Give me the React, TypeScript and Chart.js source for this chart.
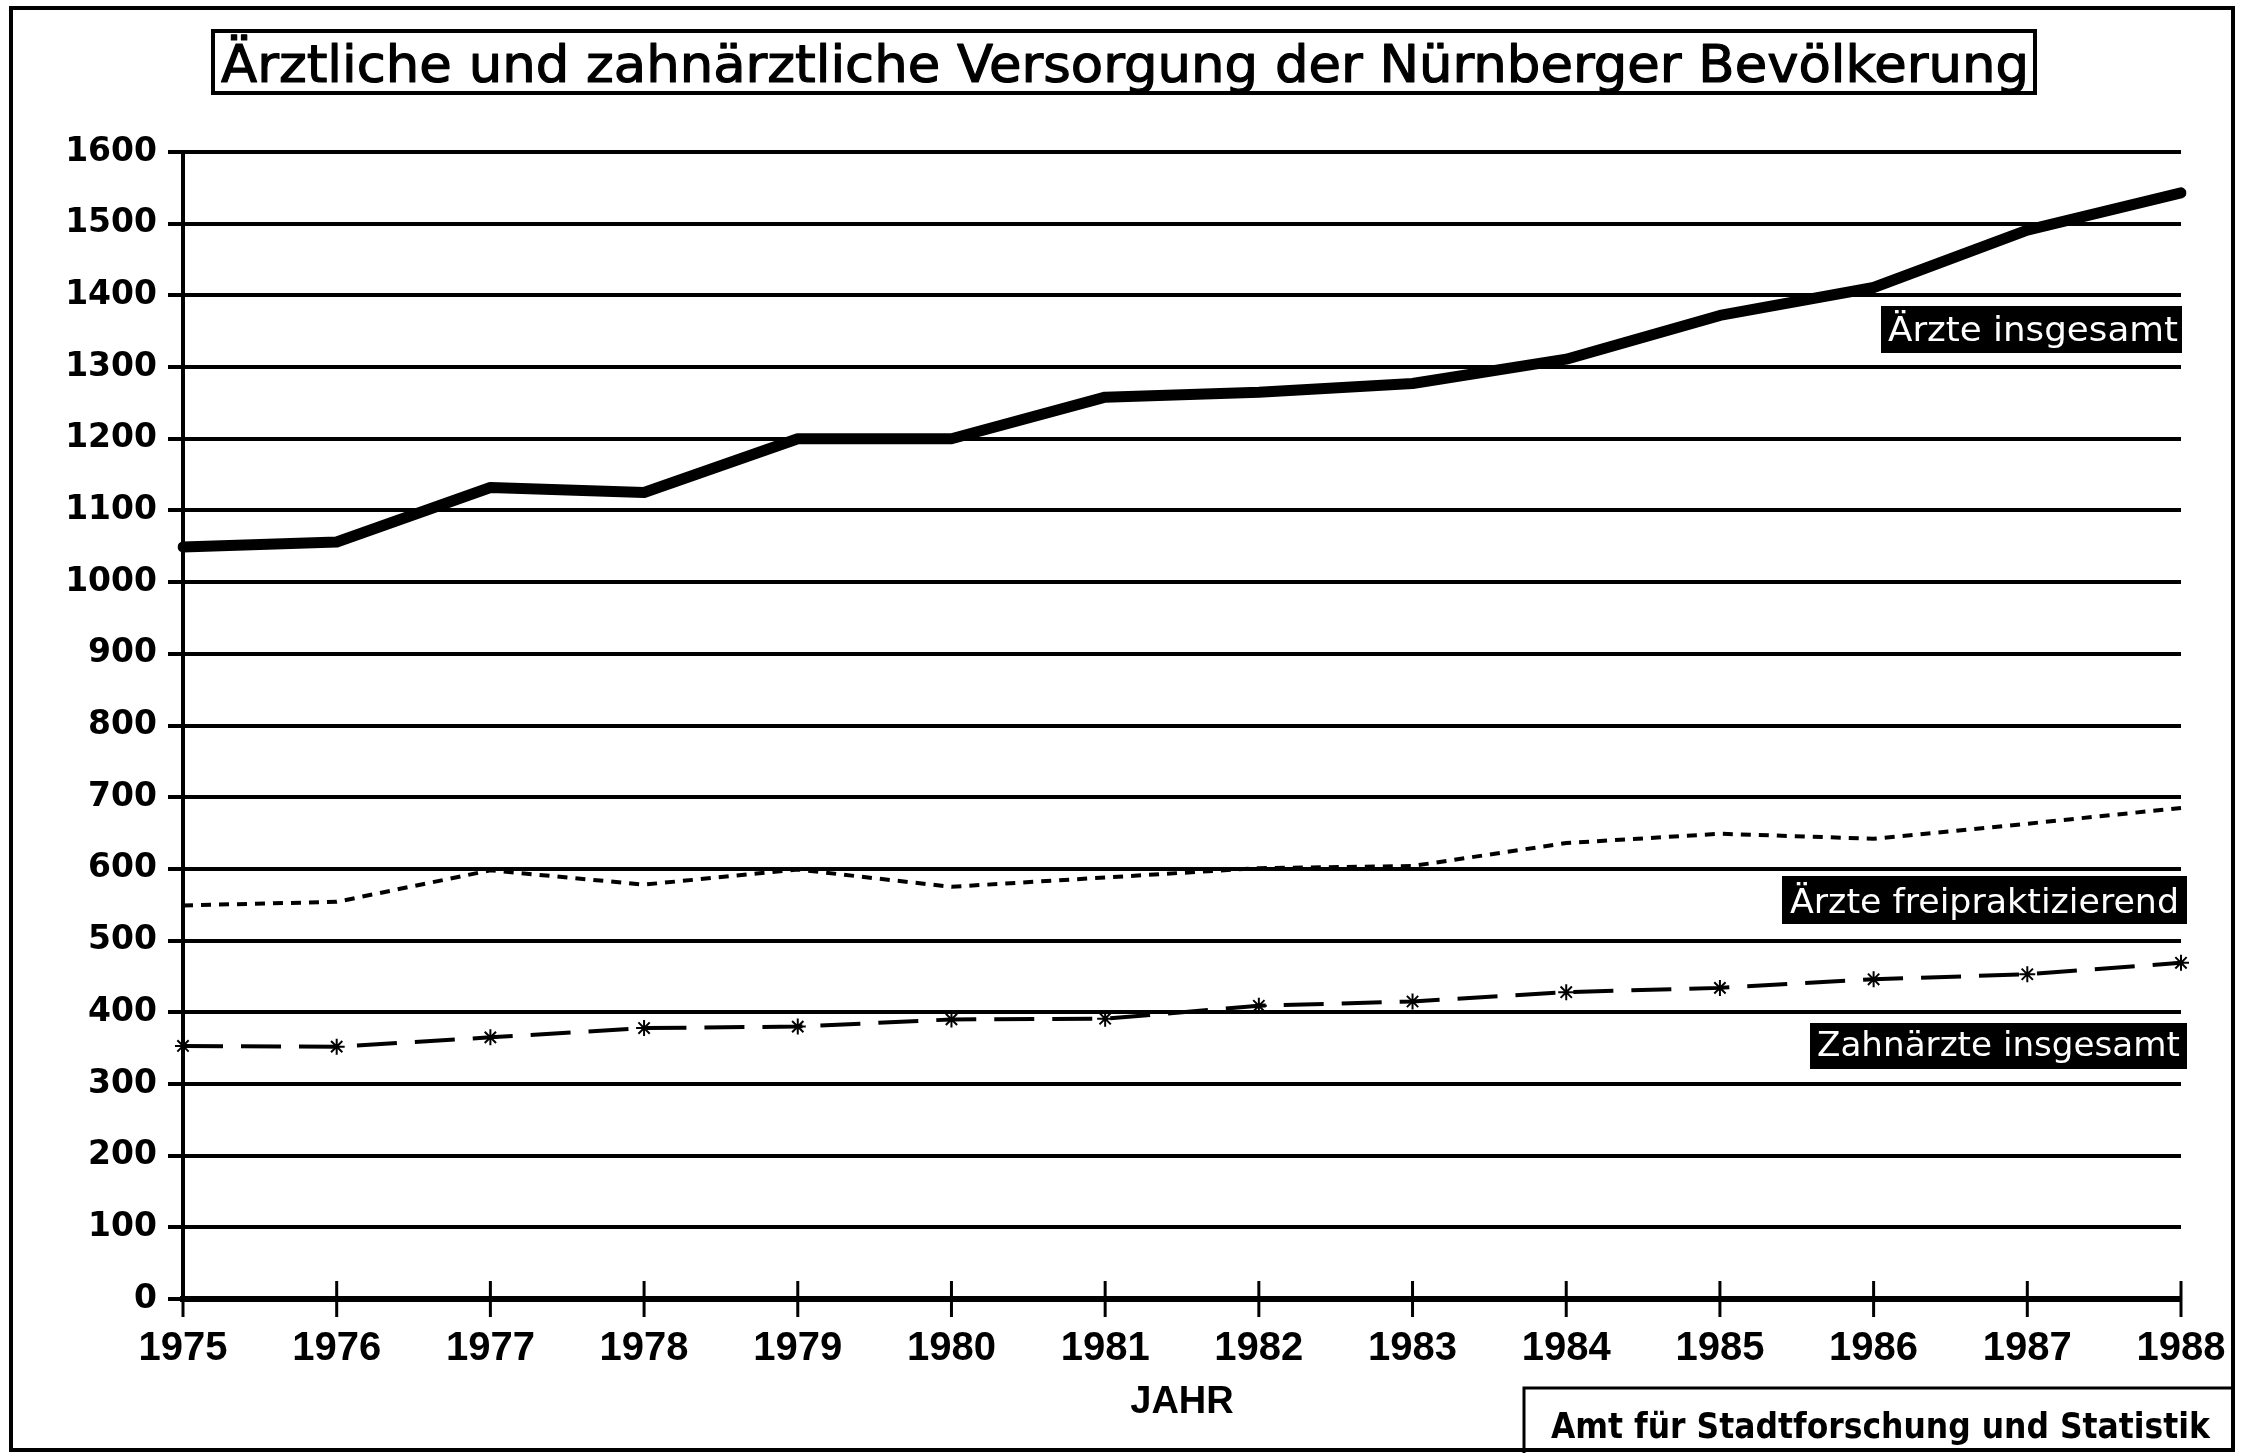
import React, { useEffect, useRef } from "react";
import { Chart, registerables } from "chart.js";

Chart.register(...registerables);

// ---- Data ----
const YEARS = ["1975", "1976", "1977", "1978", "1979", "1980", "1981", "1982", "1983", "1984", "1985", "1986", "1987", "1988"];
const AERZTE_INSGESAMT = [1049, 1056, 1132, 1125, 1200, 1200, 1258, 1265, 1277, 1311, 1372, 1411, 1491, 1543];
const AERZTE_FREI = [549, 554, 598, 578, 599, 575, 588, 601, 604, 636, 649, 642, 663, 685];
const ZAHNAERZTE = [353, 352, 365, 378, 380, 390, 391, 409, 415, 428, 434, 446, 453, 469];
const Y_MIN = 0;
const Y_MAX = 1600;
const Y_STEP = 100;

const TITLE = "Ärztliche und zahnärztliche Versorgung der Nürnberger Bevölkerung";
const SERIES_LABELS = ["Ärzte insgesamt", "Ärzte freipraktizierend", "Zahnärzte insgesamt"];
const X_TITLE = "JAHR";
const SOURCE = "Amt für Stadtforschung und Statistik";

const W = 2241;
const H = 1453;

function fitText(
  ctx: CanvasRenderingContext2D,
  text: string,
  font: string,
  left: number,
  right: number,
  baseline: number,
  color: string,
  strokeW = 0
) {
  ctx.save();
  ctx.font = font;
  ctx.fillStyle = color;
  ctx.strokeStyle = color;
  ctx.textAlign = "left";
  ctx.textBaseline = "alphabetic";
  const w = ctx.measureText(text).width;
  const sx = (right - left) / w;
  ctx.translate(left, baseline);
  ctx.scale(sx, 1);
  ctx.fillText(text, 0, 0);
  if (strokeW > 0) {
    ctx.lineWidth = strokeW;
    ctx.lineJoin = "round";
    ctx.strokeText(text, 0, 0);
  }
  ctx.restore();
}

const decorPlugin = {
  id: "decor",
  afterDraw(chart: any) {
    const ctx: CanvasRenderingContext2D = chart.ctx;
    const area = chart.chartArea;
    const xScale = chart.scales.x;
    ctx.save();
    ctx.strokeStyle = "#000";
    ctx.fillStyle = "#000";

    // outer frame
    ctx.lineWidth = 4;
    ctx.strokeRect(11, 8, 2222, 1442);

    // title box
    ctx.lineWidth = 4;
    ctx.strokeRect(213, 31, 1822, 62);
    fitText(ctx, TITLE, "52px 'DejaVu Sans'", 221, 2029, 82, "#000", 1.2);

    // x tick marks crossing the axis
    ctx.lineWidth = 3;
    for (let i = 0; i < YEARS.length; i++) {
      const x = xScale.getPixelForValue(i);
      ctx.beginPath();
      ctx.moveTo(x, area.bottom - 18);
      ctx.lineTo(x, area.bottom + 18);
      ctx.stroke();
    }

    // series label boxes
    const boxes = [
      { x: 1881, y: 306, w: 301, h: 47, l: 1888, r: 2178, b: 341 },
      { x: 1782, y: 876, w: 405, h: 48, l: 1790, r: 2179, b: 913 },
      { x: 1810, y: 1023, w: 377, h: 46, l: 1817, r: 2180, b: 1056 },
    ];
    boxes.forEach((bx, i) => {
      ctx.fillStyle = "#000";
      ctx.fillRect(bx.x, bx.y, bx.w, bx.h);
      fitText(ctx, SERIES_LABELS[i], "34px 'DejaVu Sans'", bx.l, bx.r, bx.b, "#fff");
    });

    // source box
    ctx.lineWidth = 3;
    ctx.beginPath();
    ctx.moveTo(1524, H);
    ctx.lineTo(1524, 1388);
    ctx.lineTo(2234, 1388);
    ctx.stroke();
    fitText(ctx, SOURCE, "bold 35px 'DejaVu Sans'", 1551, 2210, 1438, "#000");

    ctx.restore();
  },
};

export default function App() {
  const ref = useRef<HTMLCanvasElement | null>(null);

  useEffect(() => {
    document.body.style.margin = "0";
    const canvas = ref.current;
    if (!canvas) return;
    const chart = new Chart(canvas, {
      type: "line",
      data: {
        labels: YEARS,
        datasets: [
          {
            label: SERIES_LABELS[0],
            data: AERZTE_INSGESAMT,
            borderColor: "#000",
            borderWidth: 11,
            borderJoinStyle: "round",
            borderCapStyle: "round",
            pointRadius: 0,
            tension: 0,
            fill: false,
          },
          {
            label: SERIES_LABELS[1],
            data: AERZTE_FREI,
            borderColor: "#000",
            borderWidth: 4,
            borderDash: [10, 8],
            pointRadius: 0,
            tension: 0,
            fill: false,
          },
          {
            label: SERIES_LABELS[2],
            data: ZAHNAERZTE,
            borderColor: "#000",
            borderWidth: 4,
            borderDash: [40, 18],
            pointStyle: "star",
            pointRadius: 8,
            pointBorderWidth: 2,
            pointBorderColor: "#000",
            pointBackgroundColor: "#000",
            tension: 0,
            fill: false,
          },
        ],
      },
      options: {
        animation: false,
        responsive: false,
        devicePixelRatio: 1,
        layout: { padding: { top: 152, right: 60, left: 0, bottom: 0 } },
        plugins: {
          legend: { display: false },
          tooltip: { enabled: false },
          title: { display: false },
        },
        scales: {
          x: {
            type: "category",
            offset: false,
            grid: {
              display: true,
              drawOnChartArea: false,
              drawTicks: true,
              tickLength: 12,
              tickColor: "rgba(0,0,0,0)",
              color: "rgba(0,0,0,0)",
            },
            border: { display: true, color: "#000", width: 6 },
            ticks: {
              color: "#000",
              font: { family: "'Liberation Sans', Arial, sans-serif", size: 40, weight: "bold" },
              padding: 14,
              maxRotation: 0,
              autoSkip: false,
            },
            title: {
              display: true,
              text: X_TITLE,
              color: "#000",
              font: { family: "'Liberation Sans', Arial, sans-serif", size: 38, weight: "bold" },
              padding: { top: 0, bottom: 28 },
            },
            afterFit: (s: any) => {
              s.height = 154;
            },
          },
          y: {
            min: Y_MIN,
            max: Y_MAX,
            ticks: {
              stepSize: Y_STEP,
              color: "#000",
              font: { family: "'DejaVu Sans', sans-serif", size: 33, weight: "bold" },
              padding: 11,
              callback: (v: any) => String(v),
            },
            grid: { color: "#000", lineWidth: 4, tickLength: 15 },
            border: { color: "#000", width: 4 },
            afterFit: (s: any) => {
              s.width = 183;
            },
          },
        },
      },
      plugins: [decorPlugin],
    } as any);
    return () => chart.destroy();
  }, []);

  return (
    <div style={{ width: W, height: H, background: "#fff" }}>
      <canvas ref={ref} width={W} height={H} style={{ display: "block", width: W, height: H }} />
    </div>
  );
}
